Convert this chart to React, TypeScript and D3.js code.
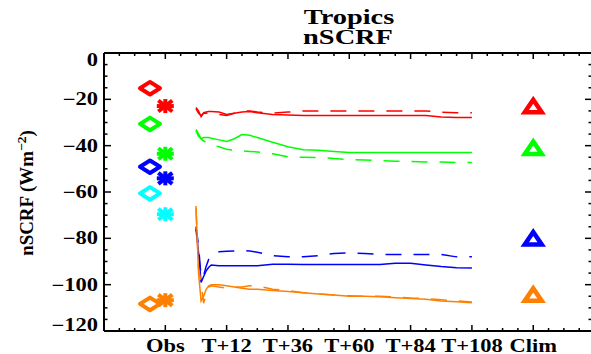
import React from "react";
import * as d3 from "d3";

const W = 591;
const H = 354;
const frame = { left: 104, right: 592, top: 53, bottom: 331 };

// Axis ticks
const xTickHours = [-12, 12, 36, 60, 84, 108, 132];
const xTickLabels = ["Obs", "T+12", "T+36", "T+60", "T+84", "T+108", "Clim"];
const yTickValues = [0, -20, -40, -60, -80, -100, -120];

// Observational estimates (two products) and climate-run values
const obsColors = ["#ff0000", "#00ff00", "#0000ff", "#00ffff", "#ff8000"];
const obsDiamondHour = -18;
const obsAsteriskHour = -12;
const obsDiamond = [-15.2, -30.6, -49.1, -60.6, -108.3];
const obsAsterisk = [-22.9, -43.5, -54.1, -69.6, -106.7];

const climColors = ["#ff0000", "#00ff00", "#0000ff", "#ff8000"];
const climHour = 132;
const climTriangle = [-23, -41, -80.1, -104.4];

// Forecast-lead curves
const forecastHours = [0, 1, 2, 3, 4, 5, 6, 9, 12, 15, 18, 21, 24, 30, 36, 42, 48, 54, 60, 66, 72, 78, 84, 90, 96, 102, 108];
const redSolid = [-23.5, -25, -27.5, -25.8, -25.5, -25.3, -25.3, -25.5, -26.5, -26, -25.5, -25.3, -25.8, -26.5, -26.8, -27, -27, -27, -27, -27, -27, -27, -27, -27, -27.6, -27.8, -27.8];
const redDashed = [-24, -26, -27, -26, -26, -26, -26, -26.5, -27, -26, -25, -25, -25.5, -26, -25.5, -25, -25, -25, -25, -25, -25, -25, -25, -25, -25.6, -25.8, -25.8];
const greenSolid = [-33.5, -36, -37, -36.5, -36.5, -36.5, -36.8, -37.5, -38.2, -37, -35.2, -35.5, -36.5, -38.5, -40.5, -41.8, -42, -42.5, -43, -43, -43, -43, -43, -43, -43, -43, -43];
const greenDashed = [-33, -35, -37, -38, -38.5, -39, -39.5, -40.5, -41.5, -42, -42.3, -42.5, -42.7, -43.5, -44.8, -45, -45.2, -45.5, -46, -46.2, -46.5, -46.7, -46.8, -47, -47.1, -47.3, -47.3];
const blueSolid = [-76, -86, -99, -96.5, -94, -92.5, -91.5, -91.8, -91.8, -91.8, -91.8, -91.8, -91.8, -91.2, -91.2, -91.3, -91.3, -91.3, -91.3, -91.3, -91.3, -90.8, -90.8, -91.5, -92.2, -92.7, -92.8];
const blueDashed = [-75, -83, -97, -96, -92, -89, -87.5, -85.8, -85.6, -85.5, -85.3, -85.5, -86, -87.5, -88, -88, -87.5, -86.5, -86.3, -86.5, -87, -87, -87, -87, -87, -88, -88];
const orangeSolid = [-66, -95, -107, -105, -102, -100.5, -100, -100, -100.5, -101, -101.5, -102, -102, -102.5, -103, -103.5, -104, -104.5, -105, -105, -105.2, -105.6, -106, -106.3, -107, -107.4, -107.8];
const orangeDashed = [-67, -93, -99, -108, -104, -101, -100.5, -101, -101.5, -101, -101, -100.5, -100.5, -102, -102.5, -103.5, -104, -104.5, -104.8, -105, -105, -105.3, -105.8, -106, -106.5, -107, -107.5];

const curves = [
  { values: redSolid, color: "#ff0000", dashed: false },
  { values: redDashed, color: "#ff0000", dashed: true },
  { values: greenSolid, color: "#00ff00", dashed: false },
  { values: greenDashed, color: "#00ff00", dashed: true },
  { values: blueSolid, color: "#0000ff", dashed: false },
  { values: blueDashed, color: "#0000ff", dashed: true },
  { values: orangeSolid, color: "#ff8000", dashed: false },
  { values: orangeDashed, color: "#ff8000", dashed: true },
];

const FONT = "'Liberation Serif', 'Times New Roman', serif";

const x = d3.scaleLinear().domain([-36, 155]).range([frame.left, frame.right]);
const y = d3.scaleLinear().domain([-120, 0]).range([frame.bottom, frame.top]);

const line = d3
  .line<number>()
  .x((_, i) => x(forecastHours[i]))
  .y((v) => y(v));

const xMinor = d3.range(-30, 155, 6);
const yMinor = d3.range(-120, 0.1, 5);

function Diamond({ cx, cy, color }: { cx: number; cy: number; color: string }) {
  const d = `M${cx - 10},${cy} L${cx},${cy - 6.3} L${cx + 10},${cy} L${cx},${cy + 6.3} Z`;
  return <path d={d} fill="none" stroke={color} strokeWidth={4} strokeLinejoin="round" />;
}

function Asterisk({ cx, cy, color }: { cx: number; cy: number; color: string }) {
  const spokes = [
    [8.5, 0],
    [0, 7],
    [7, 5.5],
    [7, -5.5],
  ];
  return (
    <g stroke={color} strokeWidth={4}>
      {spokes.map(([dx, dy], i) => (
        <line key={i} x1={cx - dx} y1={cy - dy} x2={cx + dx} y2={cy + dy} />
      ))}
    </g>
  );
}

function Triangle({ cx, cy, color }: { cx: number; cy: number; color: string }) {
  const d = `M${cx},${cy - 6.5} L${cx + 8.5},${cy + 6} L${cx - 8.5},${cy + 6} Z`;
  return <path d={d} fill="none" stroke={color} strokeWidth={4.5} strokeLinejoin="miter" />;
}

function Label({
  tx,
  ty,
  text,
  anchor = "middle",
  size = 18,
  sx = 1.25,
}: {
  tx: number;
  ty: number;
  text: string;
  anchor?: string;
  size?: number;
  sx?: number;
}) {
  return (
    <g transform={`translate(${tx},${ty}) scale(${sx},1)`}>
      <text textAnchor={anchor} fontFamily={FONT} fontWeight="bold" fontSize={size} fill="#000">
        {text}
      </text>
    </g>
  );
}

export default function App() {
  const tickStroke = "#000";
  return (
    <svg
      width={W}
      height={H}
      viewBox={`0 0 ${W} ${H}`}
      style={{ position: "absolute", left: 0, top: 0, background: "#fff" }}
    >
      <rect x={0} y={0} width={W} height={H} fill="#fff" />

      {/* Title */}
      <Label tx={349} ty={24} text="Tropics" size={22} sx={1.29} />
      <Label tx={348} ty={43.5} text="nSCRF" size={22} sx={1.29} />

      {/* Frame */}
      <g stroke="#000" strokeWidth={2} fill="none">
        <line x1={frame.left} y1={frame.top} x2={frame.right} y2={frame.top} />
        <line x1={frame.left} y1={frame.bottom} x2={frame.right} y2={frame.bottom} />
        <line x1={frame.left} y1={frame.top} x2={frame.left} y2={frame.bottom} />
        <line x1={frame.right} y1={frame.top} x2={frame.right} y2={frame.bottom} />
      </g>

      {/* X ticks, bottom and top */}
      <g stroke={tickStroke} strokeWidth={1.5}>
        {xMinor.map((h) => {
          const major = xTickHours.includes(h);
          const len = major ? 6 : 3;
          return (
            <g key={h}>
              <line x1={x(h)} x2={x(h)} y1={frame.bottom} y2={frame.bottom - len} />
              <line x1={x(h)} x2={x(h)} y1={frame.top} y2={frame.top + len} />
            </g>
          );
        })}
      </g>

      {/* Y ticks, left and right */}
      <g stroke={tickStroke} strokeWidth={1.5}>
        {yMinor.map((v) => {
          const major = Math.round(v) % 20 === 0;
          const len = major ? 7 : 3.5;
          return (
            <g key={v}>
              <line x1={frame.left} x2={frame.left + len} y1={y(v)} y2={y(v)} />
              <line x1={frame.right} x2={frame.right - len} y1={y(v)} y2={y(v)} />
            </g>
          );
        })}
      </g>

      {/* Tick labels */}
      {xTickHours.map((h, i) => (
        <Label key={h} tx={x(h)} ty={351.5} text={xTickLabels[i]} />
      ))}
      {yTickValues.map((v) => {
        const cy = Math.min(Math.max(y(v), frame.top + 7), frame.bottom - 6);
        return <Label key={v} tx={98} ty={cy + 6} text={v === 0 ? "0" : `\u2212${Math.abs(v)}`} anchor="end" />;
      })}

      {/* Y axis title */}
      <g transform={`translate(33,193) rotate(-90) scale(1.05,1)`}>
        <text textAnchor="middle" fontFamily={FONT} fontWeight="bold" fontSize={18} fill="#000">
          nSCRF (Wm
          <tspan dy={-7} fontSize={13}>
            {"\u22122"}
          </tspan>
          <tspan dy={7}>)</tspan>
        </text>
      </g>

      {/* Forecast curves */}
      <g fill="none" strokeWidth={1.5}>
        {curves.map((c, i) => (
          <path
            key={i}
            d={line(c.values) || ""}
            stroke={c.color}
            strokeDasharray={c.dashed ? "16 12" : undefined}
          />
        ))}
      </g>

      {/* Observations */}
      {obsDiamond.map((v, i) => (
        <Diamond key={`d${i}`} cx={x(obsDiamondHour)} cy={y(v)} color={obsColors[i]} />
      ))}
      {obsAsterisk.map((v, i) => (
        <Asterisk key={`a${i}`} cx={x(obsAsteriskHour)} cy={y(v)} color={obsColors[i]} />
      ))}

      {/* Climate values */}
      {climTriangle.map((v, i) => (
        <Triangle key={`t${i}`} cx={x(climHour)} cy={y(v)} color={climColors[i]} />
      ))}
    </svg>
  );
}
